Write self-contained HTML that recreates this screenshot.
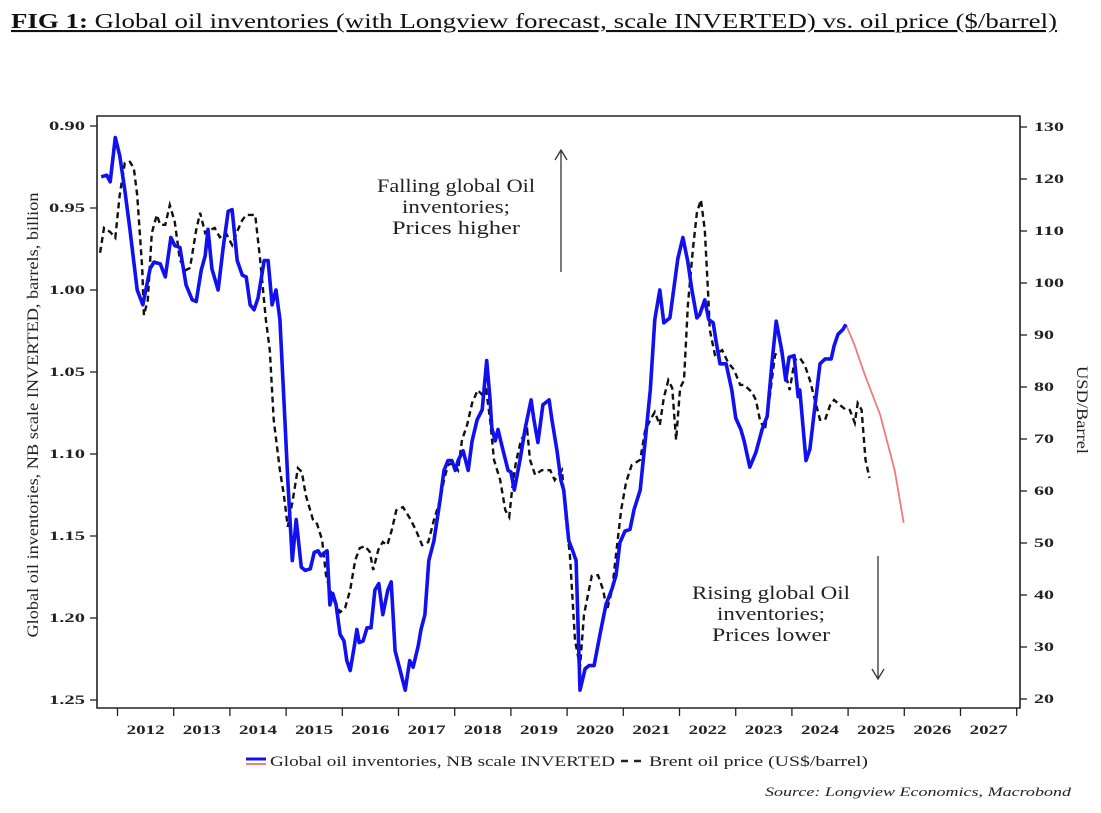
<!DOCTYPE html>
<html><head><meta charset="utf-8">
<style>
body{margin:0;background:#fff;}
svg{display:block;font-family:"Liberation Serif",serif;}
</style></head>
<body>
<svg id="chart" width="1101" height="813" viewBox="0 0 1101 813" xmlns="http://www.w3.org/2000/svg">
<text x="11" y="28" font-size="21" fill="#111" text-decoration="underline" textLength="1046" lengthAdjust="spacingAndGlyphs"><tspan font-weight="bold">FIG 1:</tspan> Global oil inventories (with Longview forecast, scale INVERTED) vs. oil price ($/barrel)</text>
<g id="axes"></g>
<g id="series"></g>
<g font-size="19" fill="#222" text-anchor="middle">
<text x="456" y="192" textLength="158" lengthAdjust="spacingAndGlyphs">Falling global Oil</text><text x="456" y="213" textLength="108" lengthAdjust="spacingAndGlyphs">inventories;</text><text x="456" y="234" textLength="128" lengthAdjust="spacingAndGlyphs">Prices higher</text>
</g>
<line x1="561" y1="272" x2="561" y2="151" stroke="#333" stroke-width="1.3"/>
<polyline points="555,160 561,150 567,160" fill="none" stroke="#333" stroke-width="1.3"/>
<g font-size="19" fill="#222" text-anchor="middle">
<text x="771" y="599" textLength="158" lengthAdjust="spacingAndGlyphs">Rising global Oil</text><text x="771" y="620" textLength="108" lengthAdjust="spacingAndGlyphs">inventories;</text><text x="771" y="641" textLength="118" lengthAdjust="spacingAndGlyphs">Prices lower</text>
</g>
<line x1="878" y1="556" x2="878" y2="678" stroke="#333" stroke-width="1.3"/>
<polyline points="872,669 878,679 884,669" fill="none" stroke="#333" stroke-width="1.3"/>
<g font-size="15" fill="#222">
<line x1="246" y1="759" x2="266" y2="759" stroke="#1010f0" stroke-width="3"/>
<line x1="246" y1="764" x2="266" y2="764" stroke="#f08080" stroke-width="2"/>
<text x="270" y="766" textLength="345" lengthAdjust="spacingAndGlyphs">Global oil inventories, NB scale INVERTED</text>
<line x1="621" y1="761" x2="646" y2="761" stroke="#222" stroke-width="2.5" stroke-dasharray="7,6"/>
<text x="649" y="766" textLength="219" lengthAdjust="spacingAndGlyphs">Brent oil price (US$/barrel)</text>
</g>
<text x="765" y="796" font-size="13" font-style="italic" fill="#222" textLength="306" lengthAdjust="spacingAndGlyphs">Source: Longview Economics, Macrobond</text>
<text transform="translate(38,415) rotate(-90)" font-size="16" text-anchor="middle" fill="#222" textLength="445" lengthAdjust="spacingAndGlyphs">Global oil inventories, NB scale INVERTED, barrels, billion</text>
<text transform="translate(1077,410) rotate(90)" font-size="16" text-anchor="middle" fill="#222" textLength="88" lengthAdjust="spacingAndGlyphs">USD/Barrel</text>
</svg>
<script>
const yearLabels=[2012,2013,2014,2015,2016,2017,2018,2019,2020,2021,2022,2023,2024,2025,2026,2027];
const leftTicks=[0.90,0.95,1.00,1.05,1.10,1.15,1.20,1.25];
const rightTicks=[130,120,110,100,90,80,70,60,50,40,30,20];
const invDates=[2011.71,2011.81,2011.87,2011.96,2012.04,2012.13,2012.22,2012.35,2012.45,2012.58,2012.65,2012.76,2012.85,2012.95,2013.02,2013.11,2013.22,2013.33,2013.40,2013.49,2013.56,2013.61,2013.68,2013.79,2013.88,2013.97,2014.04,2014.13,2014.22,2014.29,2014.36,2014.43,2014.50,2014.61,2014.68,2014.75,2014.82,2014.89,2014.96,2015.03,2015.11,2015.18,2015.27,2015.34,2015.43,2015.50,2015.57,2015.62,2015.73,2015.78,2015.83,2015.89,2015.96,2016.03,2016.08,2016.14,2016.21,2016.26,2016.30,2016.37,2016.44,2016.51,2016.58,2016.65,2016.72,2016.81,2016.87,2016.94,2017.03,2017.12,2017.20,2017.26,2017.35,2017.40,2017.47,2017.54,2017.63,2017.74,2017.81,2017.88,2017.95,2018.01,2018.06,2018.15,2018.24,2018.31,2018.40,2018.49,2018.57,2018.63,2018.66,2018.72,2018.77,2018.84,2018.95,2019.00,2019.06,2019.16,2019.25,2019.36,2019.41,2019.48,2019.57,2019.68,2019.73,2019.82,2019.89,2019.94,2020.03,2020.10,2020.16,2020.23,2020.32,2020.39,2020.48,2020.59,2020.69,2020.80,2020.87,2020.94,2021.03,2021.12,2021.19,2021.30,2021.39,2021.48,2021.56,2021.65,2021.72,2021.83,2021.97,2022.06,2022.15,2022.22,2022.31,2022.36,2022.45,2022.52,2022.60,2022.65,2022.72,2022.83,2022.93,2023.00,2023.09,2023.15,2023.25,2023.36,2023.47,2023.56,2023.65,2023.72,2023.82,2023.89,2023.95,2024.04,2024.11,2024.14,2024.25,2024.32,2024.41,2024.50,2024.59,2024.70,2024.75,2024.82,2024.91,2024.96];
const invValues=[0.931,0.930,0.934,0.907,0.918,0.939,0.963,1.000,1.009,0.987,0.983,0.984,0.992,0.968,0.973,0.974,0.997,1.006,1.007,0.988,0.979,0.963,0.987,1.000,0.974,0.952,0.951,0.982,0.991,0.992,1.009,1.012,1.005,0.982,0.982,1.009,1.000,1.018,1.067,1.116,1.165,1.140,1.169,1.171,1.170,1.160,1.159,1.162,1.159,1.192,1.185,1.192,1.210,1.214,1.226,1.232,1.218,1.207,1.215,1.214,1.206,1.206,1.183,1.179,1.198,1.183,1.178,1.220,1.232,1.244,1.226,1.230,1.217,1.207,1.198,1.165,1.153,1.128,1.110,1.104,1.104,1.110,1.104,1.098,1.110,1.092,1.079,1.073,1.043,1.067,1.084,1.092,1.085,1.095,1.110,1.111,1.122,1.104,1.085,1.067,1.079,1.093,1.070,1.067,1.079,1.098,1.116,1.122,1.153,1.159,1.165,1.244,1.231,1.229,1.229,1.209,1.192,1.182,1.174,1.154,1.147,1.146,1.134,1.122,1.092,1.061,1.018,1.000,1.020,1.017,0.981,0.968,0.983,1.000,1.017,1.015,1.006,1.018,1.020,1.031,1.045,1.045,1.061,1.078,1.085,1.092,1.108,1.099,1.085,1.077,1.043,1.019,1.037,1.055,1.041,1.040,1.065,1.061,1.104,1.097,1.071,1.045,1.042,1.042,1.034,1.027,1.024,1.021];
const fcDates=[2024.96,2025.12,2025.30,2025.57,2025.83,2025.99];
const fcValues=[1.021,1.034,1.052,1.076,1.110,1.142];
const brentDates=[2011.69,2011.76,2011.87,2011.96,2012.04,2012.13,2012.22,2012.29,2012.35,2012.44,2012.47,2012.54,2012.61,2012.70,2012.76,2012.85,2012.93,2013.02,2013.11,2013.22,2013.29,2013.40,2013.47,2013.56,2013.65,2013.73,2013.82,2013.93,2014.04,2014.14,2014.22,2014.29,2014.45,2014.54,2014.64,2014.71,2014.78,2014.89,2014.96,2015.03,2015.12,2015.21,2015.28,2015.35,2015.48,2015.55,2015.64,2015.71,2015.78,2015.87,2015.96,2016.05,2016.14,2016.23,2016.31,2016.40,2016.49,2016.55,2016.64,2016.72,2016.80,2016.88,2016.96,2017.08,2017.20,2017.31,2017.42,2017.53,2017.63,2017.74,2017.81,2017.88,2017.97,2018.06,2018.13,2018.22,2018.31,2018.41,2018.49,2018.56,2018.63,2018.70,2018.81,2018.90,2018.97,2019.04,2019.09,2019.18,2019.29,2019.34,2019.43,2019.55,2019.70,2019.78,2019.91,2019.98,2020.05,2020.14,2020.23,2020.30,2020.37,2020.44,2020.55,2020.64,2020.71,2020.80,2020.89,2020.96,2021.05,2021.15,2021.30,2021.39,2021.48,2021.56,2021.65,2021.72,2021.80,2021.87,2021.94,2022.01,2022.08,2022.15,2022.24,2022.31,2022.38,2022.45,2022.51,2022.54,2022.63,2022.76,2022.86,2022.97,2023.08,2023.15,2023.29,2023.36,2023.43,2023.52,2023.61,2023.70,2023.82,2023.89,2023.96,2024.05,2024.14,2024.23,2024.32,2024.41,2024.50,2024.59,2024.68,2024.75,2024.86,2024.96,2025.03,2025.12,2025.17,2025.24,2025.31,2025.38];
const brentValues=[105.8,110.6,109.8,108.7,116.9,123.1,123.3,122.1,116.9,102.9,93.8,96.7,109.6,113.1,111.2,111.2,115.0,111.7,104.4,102.5,102.9,110.2,113.5,109.6,110.2,110.6,108.8,109.6,107.3,110.2,112.1,113.1,113.1,104.4,92.9,87.1,73.7,64.0,59.2,53.1,58.3,64.4,63.7,59.2,54.4,53.7,50.6,43.8,41.0,38.5,36.7,37.5,41.0,46.7,49.0,49.4,48.3,44.8,48.7,50.2,49.6,52.5,56.3,56.9,54.8,52.5,49.6,50.2,54.4,58.3,62.1,65.0,65.4,64.0,69.8,72.7,76.9,79.4,78.5,79.4,73.7,66.0,62.1,56.3,55.0,62.1,65.6,69.8,71.7,66.0,63.1,64.0,64.0,62.1,64.0,54.4,47.7,31.3,26.2,36.2,40.0,43.7,43.8,41.0,37.1,41.0,49.6,56.3,61.7,65.0,66.0,71.7,73.7,75.2,72.7,77.9,81.3,79.8,69.8,79.8,81.3,95.8,106.7,113.5,116.0,110.2,97.7,91.0,86.2,87.1,84.8,83.3,80.4,80.4,79.0,77.5,73.7,71.7,78.5,86.2,87.1,82.3,79.4,85.2,85.6,84.2,81.3,77.5,73.7,73.7,76.5,77.5,76.5,75.6,75.6,73.1,76.9,75.6,66.0,62.5];

const NS='http://www.w3.org/2000/svg';
const L=97,R=1020,T=116,B=708;
const xS=t=>117.5+56.2*(t-2012);
const yL=v=>126+(v-0.90)/0.05*82;
const yR=p=>127+(130-p)*5.2;
function mk(tag,attrs,parent){const e=document.createElementNS(NS,tag);for(const k in attrs)e.setAttribute(k,attrs[k]);parent.appendChild(e);return e;}
const axes=document.getElementById('axes'),ser=document.getElementById('series');
const frame=mk('path',{d:`M${L},${T}H${R}V${B}H${L}Z`,fill:'none',stroke:'#222','stroke-width':1.6},axes);


leftTicks.forEach(v=>{const y=yL(v);
 mk('line',{x1:L-7,x2:L,y1:y,y2:y,stroke:'#222','stroke-width':1.3},axes);
 const t=mk('text',{x:L-12,y:y+4,'text-anchor':'end','font-size':13,'font-weight':'bold',fill:'#222',textLength:36,lengthAdjust:'spacingAndGlyphs'},axes);
 t.textContent=v.toFixed(2);
 
 
});
rightTicks.forEach(p=>{const y=yR(p);
 mk('line',{x1:R,x2:R+7,y1:y,y2:y,stroke:'#222','stroke-width':1.3},axes);
 const t=mk('text',{x:R+14,y:y+4,'font-size':13,'font-weight':'bold',fill:'#222',textLength:p>=100?30:20,lengthAdjust:'spacingAndGlyphs'},axes);
 t.textContent=p;
 
 
});
yearLabels.forEach(yr=>{const x=xS(yr);
 mk('line',{x1:x,x2:x,y1:B,y2:B+8,stroke:'#222','stroke-width':1.3},axes);
 const t=mk('text',{x:xS(yr+0.5),y:B+26,'text-anchor':'middle','font-size':13,'font-weight':'bold',fill:'#222',textLength:38,lengthAdjust:'spacingAndGlyphs'},axes);
 t.textContent=yr;
 
 
});
mk('line',{x1:xS(2028),x2:xS(2028),y1:B,y2:B+8,stroke:'#222','stroke-width':1.3},axes);
function pts(d,v,ys){return d.map((t,i)=>xS(t).toFixed(1)+','+ys(v[i]).toFixed(1)).join(' ');}
const br=mk('polyline',{points:pts(brentDates,brentValues,yR),fill:'none',stroke:'#111','stroke-width':2.4,'stroke-dasharray':'6,4'},ser);


const fc=mk('polyline',{points:pts(fcDates,fcValues,yL),fill:'none',stroke:'#f07a7a','stroke-width':1.8},ser);


const inv=mk('polyline',{points:pts(invDates,invValues,yL),fill:'none',stroke:'#1010f0','stroke-width':3.6,'stroke-linejoin':'round'},ser);


</script>
</body></html>
